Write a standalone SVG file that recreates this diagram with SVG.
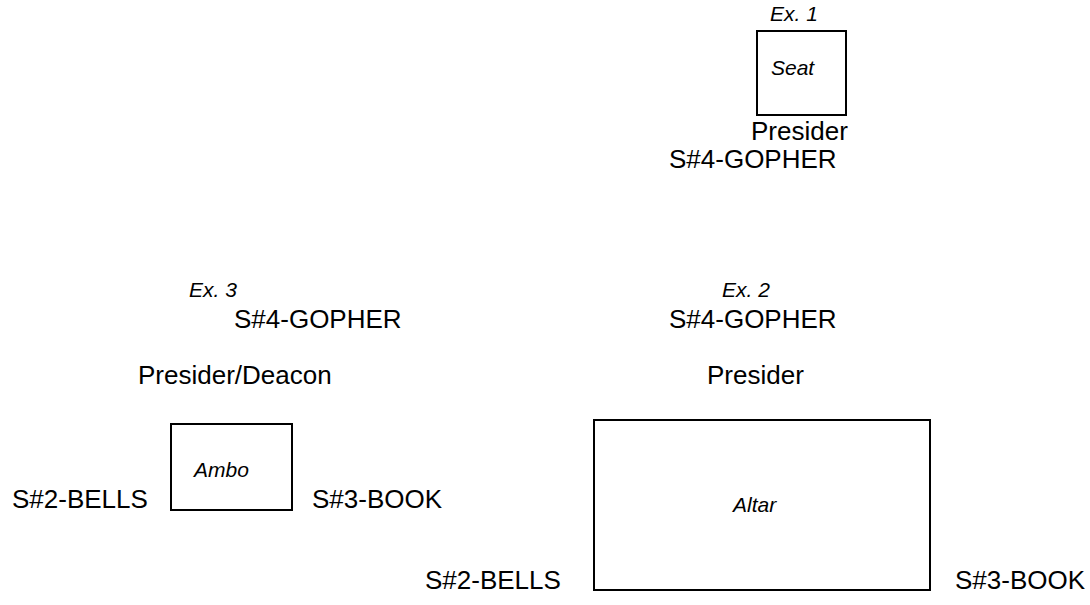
<svg xmlns="http://www.w3.org/2000/svg" width="1090" height="605" viewBox="0 0 1090 605">
<style>
.box{fill:#fff;stroke:#000;stroke-width:2}
.big{font-family:"Liberation Sans",Arial,sans-serif;font-size:26px;fill:#000}
.lbl{font-family:"Liberation Sans",Arial,sans-serif;font-size:21px;font-style:italic;fill:#000}
</style>
<rect width="1090" height="605" fill="#fff"/>
<g id="seat">
<rect class="box" x="757" y="31" width="89" height="84"/>
<text class="lbl" x="770" y="21">Ex. 1</text>
<text class="lbl" x="771" y="75">Seat</text>
<text class="big" x="751" y="140">Presider</text>
<text class="big" x="669" y="168">S#4-GOPHER</text>
</g>
<g id="ambo">
<rect class="box" x="171" y="424" width="121" height="86"/>
<text class="lbl" x="189" y="297">Ex. 3</text>
<text class="big" x="234" y="328">S#4-GOPHER</text>
<text class="big" x="138" y="384">Presider/Deacon</text>
<text class="lbl" x="194" y="477">Ambo</text>
<text class="big" x="12" y="508">S#2-BELLS</text>
<text class="big" x="312" y="508">S#3-BOOK</text>
</g>
<g id="altar">
<rect class="box" x="594" y="420" width="336" height="170"/>
<text class="lbl" x="722" y="297">Ex. 2</text>
<text class="big" x="669" y="328">S#4-GOPHER</text>
<text class="big" x="707" y="384">Presider</text>
<text class="lbl" x="733" y="512">Altar</text>
<text class="big" x="425" y="589">S#2-BELLS</text>
<text class="big" x="955" y="589">S#3-BOOK</text>
</g>
<g id="connectors"></g>
</svg>
